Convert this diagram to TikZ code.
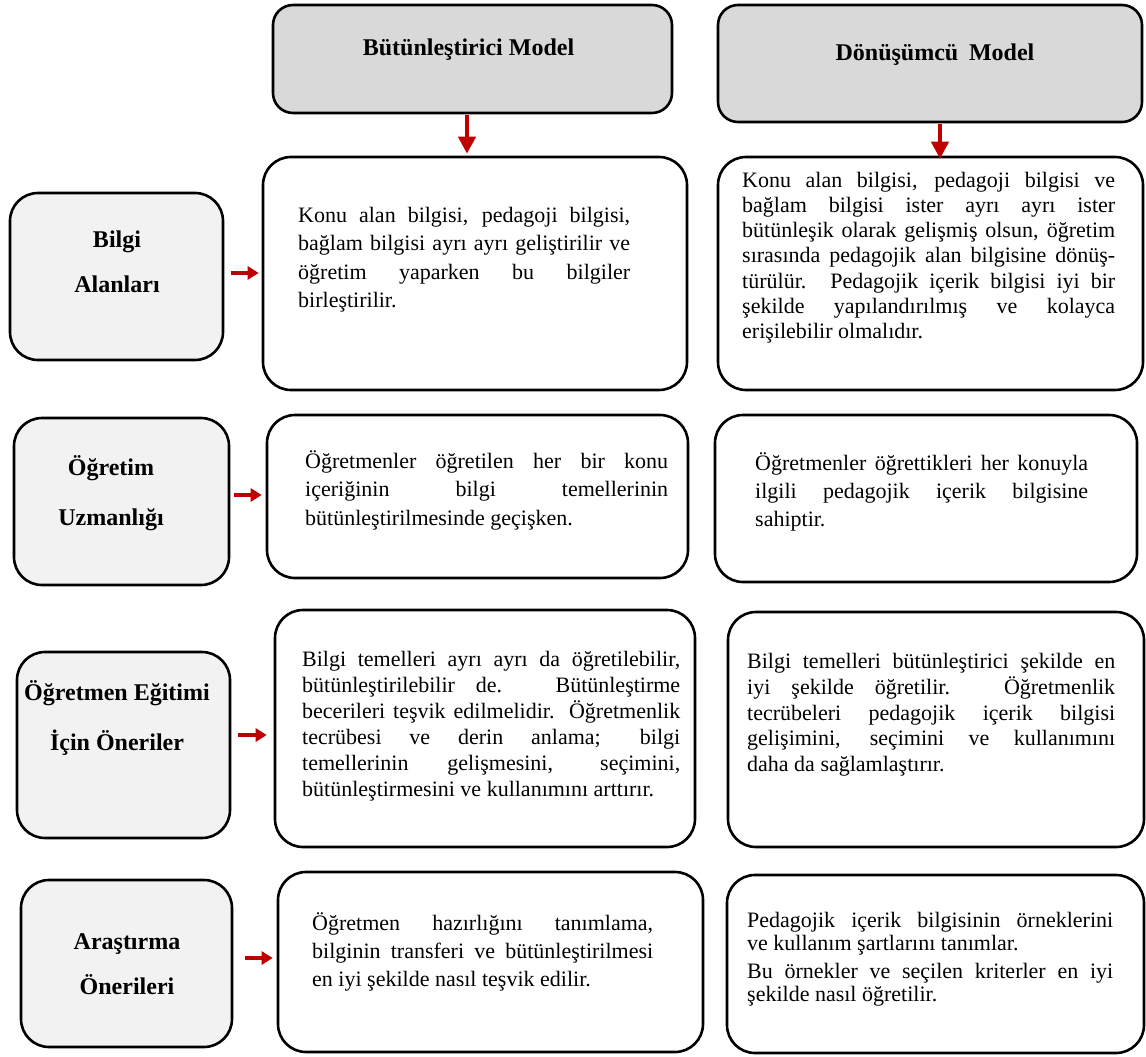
\documentclass[tikz,border=0pt]{standalone}
\usepackage{fontspec}
\setmainfont{Liberation Serif}
\usetikzlibrary{arrows.meta}
\definecolor{arrowred}{HTML}{C00000}
\definecolor{headgray}{HTML}{D9D9D9}
\definecolor{labgray}{HTML}{F2F2F2}

\tikzset{
  frame/.style={draw=black, line width=2.6pt, rounded corners=28pt, inner sep=0pt},
  headbox/.style={frame, fill=headgray, rounded corners=20pt},
  labbox/.style={frame, fill=labgray},
  txtbox/.style={frame, fill=white},
  headtext/.style={font=\bfseries\fontsize{24}{28}\selectfont, inner sep=0pt, anchor=base},
  labtext/.style={font=\bfseries\fontsize{24}{#1}\selectfont, align=center, inner sep=0pt, anchor=north},
  body/.style={font=\fontsize{22}{#1}\selectfont, align=justify, inner sep=0pt, anchor=north west},
  downarrow/.style={draw=arrowred, line width=4.5pt, -{Triangle[length=17pt,width=17pt]}},
  sidearrow/.style={draw=arrowred, line width=4pt, -{Triangle[length=11pt,width=13pt]}},
}

\begin{document}
% loose justified lines are wanted; no hyphenation
\tolerance=9999
\hyphenpenalty=10000
\begin{tikzpicture}[x=1pt, y=-1pt]
\useasboundingbox (0,0) rectangle (1146,1057);
\fill[white] (0,0) rectangle (1146,1057);

% column headers
\node[headbox, minimum width=399pt, minimum height=108pt] (h1) at (472.5,59) {};
\node[headbox, minimum width=424pt, minimum height=117pt] (h2) at (930,63.5) {};
\node[headtext] (h1t) at (468.5,55.5) {Bütünleştirici Model};
\node[headtext] (h2t) at (935,60.5) {Dönüşümcü\hspace{0.45em}Model};

% row labels
\node[labbox, minimum width=213pt, minimum height=167pt] (lab1) at (116.5,276.5) {};
\node[labbox, minimum width=215pt, minimum height=167pt] (lab2) at (121.5,501.5) {};
\node[labbox, minimum width=213pt, minimum height=186pt] (lab3) at (123.5,745) {};
\node[labbox, minimum width=211pt, minimum height=167pt] (lab4) at (126.5,963.5) {};
\node[labtext=45] (lab1t) at (117,216) {\strut Bilgi\\Alanları};
\node[labtext=50] (lab2t) at (111,440.5) {\strut Öğretim\\Uzmanlığı};
\node[labtext=50] (lab3t) at (117,665.5) {\strut Öğretmen Eğitimi\\İçin Öneriler};
\node[labtext=45] (lab4t) at (127,917.5) {\strut Araştırma\\Önerileri};

% integrative model column
\node[txtbox, minimum width=424pt, minimum height=233pt] (m1) at (475,273.5) {};
\node[txtbox, minimum width=421pt, minimum height=163pt] (m2) at (477.5,496.5) {};
\node[txtbox, minimum width=420pt, minimum height=237pt] (m3) at (485,728.5) {};
\node[txtbox, minimum width=425pt, minimum height=180pt] (m4) at (490.5,962) {};

% transformative model column
\node[txtbox, minimum width=425pt, minimum height=233pt] (r1) at (930.5,273.5) {};
\node[txtbox, minimum width=422pt, minimum height=167pt] (r2) at (926,498.5) {};
\node[txtbox, minimum width=416pt, minimum height=235pt] (r3) at (936,729.5) {};
\node[txtbox, minimum width=417pt, minimum height=178pt] (r4) at (935.5,964) {};

% box texts
\node[body=28.5, text width=332pt] (m1t) at (298,202) {\strut Konu alan bilgisi, pedagoji bilgisi,\linebreak
 bağlam bilgisi ayrı ayrı geliştirilir ve\linebreak
 öğretim yaparken bu bilgiler\linebreak
 birleştirilir.};
\node[body=25.2, text width=373pt] (r1t) at (742,169.4) {\strut Konu alan bilgisi, pedagoji bilgisi ve\linebreak
 bağlam bilgisi ister ayrı ayrı ister\linebreak
 bütünleşik olarak gelişmiş olsun, öğretim\linebreak
 sırasında pedagojik alan bilgisine dönüş-\linebreak
 türülür. Pedagojik içerik bilgisi iyi bir\linebreak
 şekilde yapılandırılmış ve kolayca\linebreak
 erişilebilir olmalıdır.};
\node[body=28.3, text width=363pt] (m2t) at (305,448.5) {\strut Öğretmenler öğretilen her bir konu\linebreak
 içeriğinin bilgi temellerinin\linebreak
 bütünleştirilmesinde geçişken.};
\node[body=28.3, text width=333pt] (r2t) at (755,450) {\strut Öğretmenler öğrettikleri her konuyla\linebreak
 ilgili pedagojik içerik bilgisine\linebreak
 sahiptir.};
\node[body=26, text width=378pt] (m3t) at (302,648.5) {\strut Bilgi temelleri ayrı ayrı da öğretilebilir,\linebreak
 bütünleştirilebilir de. Bütünleştirme\linebreak
 becerileri teşvik edilmelidir. Öğretmenlik\linebreak
 tecrübesi ve derin anlama; bilgi\linebreak
 temellerinin gelişmesini, seçimini,\linebreak
 bütünleştirmesini ve kullanımını arttırır.};
\node[body=25.4, text width=368pt] (r3t) at (747,650.5) {\strut Bilgi temelleri bütünleştirici şekilde en\linebreak
 iyi şekilde öğretilir. Öğretmenlik\linebreak
 tecrübeleri pedagojik içerik bilgisi\linebreak
 gelişimini, seçimini ve kullanımını\linebreak
 daha da sağlamlaştırır.};
\node[body=28.3, text width=341pt] (m4t) at (312,910) {\strut Öğretmen hazırlığını tanımlama,\linebreak
 bilginin transferi ve bütünleştirilmesi\linebreak
 en iyi şekilde nasıl teşvik edilir.};
\node[body=23.5, text width=366pt] (r4t) at (747,910.5) {\strut Pedagojik içerik bilgisinin örneklerini\linebreak
 ve kullanım şartlarını tanımlar.\\[4pt]
 Bu örnekler ve seçilen kriterler en iyi\linebreak
 şekilde nasıl öğretilir.};

% arrows from the headers
\draw[downarrow, shorten <=1pt, shorten >=2pt] ([xshift=-5.5pt]h1.south) -- ([xshift=-5.5pt]h1.south |- m1.north);
\draw[downarrow, shorten <=1pt, shorten >=-3pt] ([xshift=10pt]h2.south) -- ([xshift=10pt]h2.south |- r1.north);

% arrows from the row labels
\draw[sidearrow, shorten <=7pt, shorten >=3pt] ([yshift=3.5pt]lab1.east) -- ([yshift=3.5pt]lab1.east -| m1.west);
\draw[sidearrow, shorten <=4pt, shorten >=4pt] ([yshift=6.5pt]lab2.east) -- ([yshift=6.5pt]lab2.east -| m2.west);
\draw[sidearrow, shorten <=7pt, shorten >=7pt] ([yshift=10pt]lab3.east) -- ([yshift=10pt]lab3.east -| m3.west);
\draw[sidearrow, shorten <=12pt, shorten >=4pt] ([yshift=5.5pt]lab4.east) -- ([yshift=5.5pt]lab4.east -| m4.west);
\end{tikzpicture}
\end{document}
